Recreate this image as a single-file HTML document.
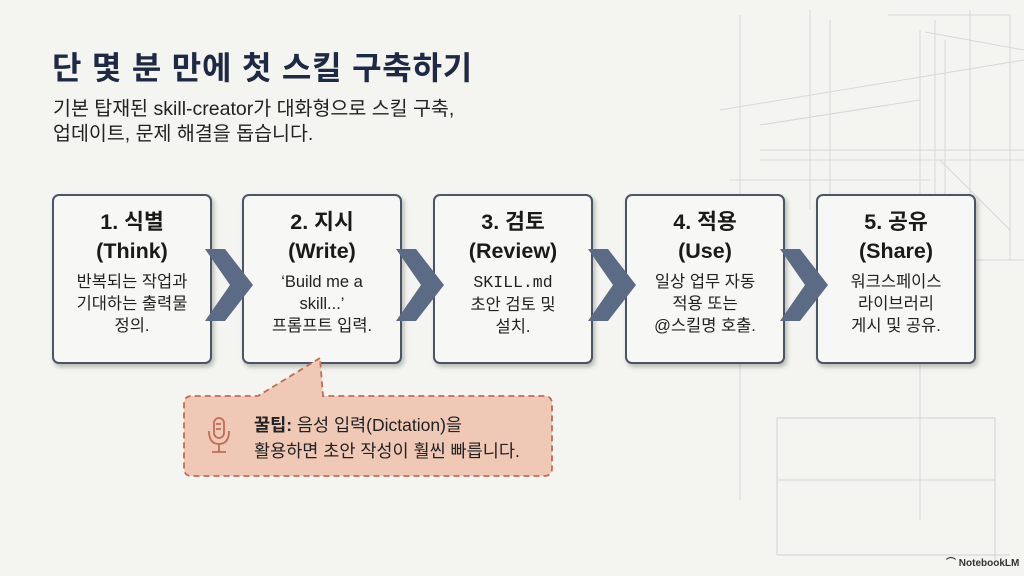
<!DOCTYPE html>
<html><head><meta charset="utf-8"><style>
body{margin:0;width:1024px;height:576px;overflow:hidden;background:#f4f4f0;font-family:"Liberation Sans","Noto Sans CJK KR",sans-serif;position:relative}
.t{position:absolute;left:52px;top:43px;font-size:32px;font-weight:bold;color:#1e2a44;letter-spacing:0.8px;white-space:nowrap}
.s{position:absolute;left:53px;top:97px;font-size:19.5px;line-height:25px;color:#222;white-space:nowrap}
.b{position:absolute;top:194px;width:160px;height:170px;border:2px solid #4b5566;border-radius:7px;background:#f7f7f5;box-shadow:2px 3px 5px rgba(0,0,0,.25);text-align:center;box-sizing:border-box}
.b h{display:block;font-weight:bold;font-size:21.5px;line-height:29px;color:#1a1a1a;margin-top:12px}
.b p{margin:5px 0 0;font-size:16.5px;line-height:22px;color:#222}
.mono{font-family:"Liberation Mono",monospace}
.tip{position:absolute;top:412px;font-size:17.5px;line-height:26px;color:#222;white-space:nowrap}
</style></head><body>
<svg width="1024" height="576" style="position:absolute;left:0;top:0">
<g stroke="#d6d8db" stroke-width="1" fill="none">
<path d="M740 15V500 M810 10V210 M830 20V210 M888 15H1010V260 M920 30V520 M935 20V200 M945 40V200 M970 10V260 M760 160H1024 M760 150H1024 M720 110L1024 60 M760 125L920 100 M730 180H930"/>
<path d="M777 480H995 M777 418H995V560 M777 418V555 M777 555H1010" stroke="#cfd2d6"/>
<path d="M925 32L1024 50 M940 160L1010 230 M960 260H1024"/>
</g>
</svg>
<div class="t">단 몇 분 만에 첫 스킬 구축하기</div>
<div class="s">기본 탑재된 skill-creator가 대화형으로 스킬 구축,<br>업데이트, 문제 해결을 돕습니다.</div>
<div class="b" style="left:52px"><h>1. 식별<br>(Think)</h><p>반복되는 작업과<br>기대하는 출력물<br>정의.</p></div>
<div class="b" style="left:242px"><h>2. 지시<br>(Write)</h><p>‘Build me a<br>skill...’<br>프롬프트 입력.</p></div>
<div class="b" style="left:433px"><h>3. 검토<br>(Review)</h><p><span class="mono">SKILL.md</span><br>초안 검토 및<br>설치.</p></div>
<div class="b" style="left:625px"><h>4. 적용<br>(Use)</h><p>일상 업무 자동<br>적용 또는<br>@스킬명 호출.</p></div>
<div class="b" style="left:816px"><h>5. 공유<br>(Share)</h><p>워크스페이스<br>라이브러리<br>게시 및 공유.</p></div>
<svg width="1024" height="576" style="position:absolute;left:0;top:0">
<g fill="#5b6b85">
<polygon points="205,249 225,249 253,285 225,321 205,321 230,285"/>
<polygon points="396,249 416,249 444,285 416,321 396,321 421,285"/>
<polygon points="588,249 608,249 636,285 608,321 588,321 613,285"/>
<polygon points="780,249 800,249 828,285 800,321 780,321 805,285"/>
</g>
<path d="M320 358 L258 396 H192 Q184 396 184 404 V468 Q184 476 192 476 H544 Q552 476 552 468 V404 Q552 396 544 396 H323 Z" fill="#efc9b6" stroke="#c06c56" stroke-width="1.8" stroke-dasharray="6,4"/>
<g stroke="#c06c56" stroke-width="1.8" fill="none">
<rect x="214" y="418" width="10" height="20" rx="5"/>
<path d="M209 431 Q209 444 219 444 Q229 444 229 431 M219 444V452 M212 452H226 M216 424H221 M216 429H221"/>
</g>
</svg>
<div class="tip" style="left:254px"><b>꿀팁:</b> 음성 입력(Dictation)을<br>활용하면 초안 작성이 훨씬 빠릅니다.</div>
<div style="position:absolute;left:946px;top:554px;font-size:10px;color:#333;font-weight:bold">⌒ NotebookLM</div>
</body></html>
